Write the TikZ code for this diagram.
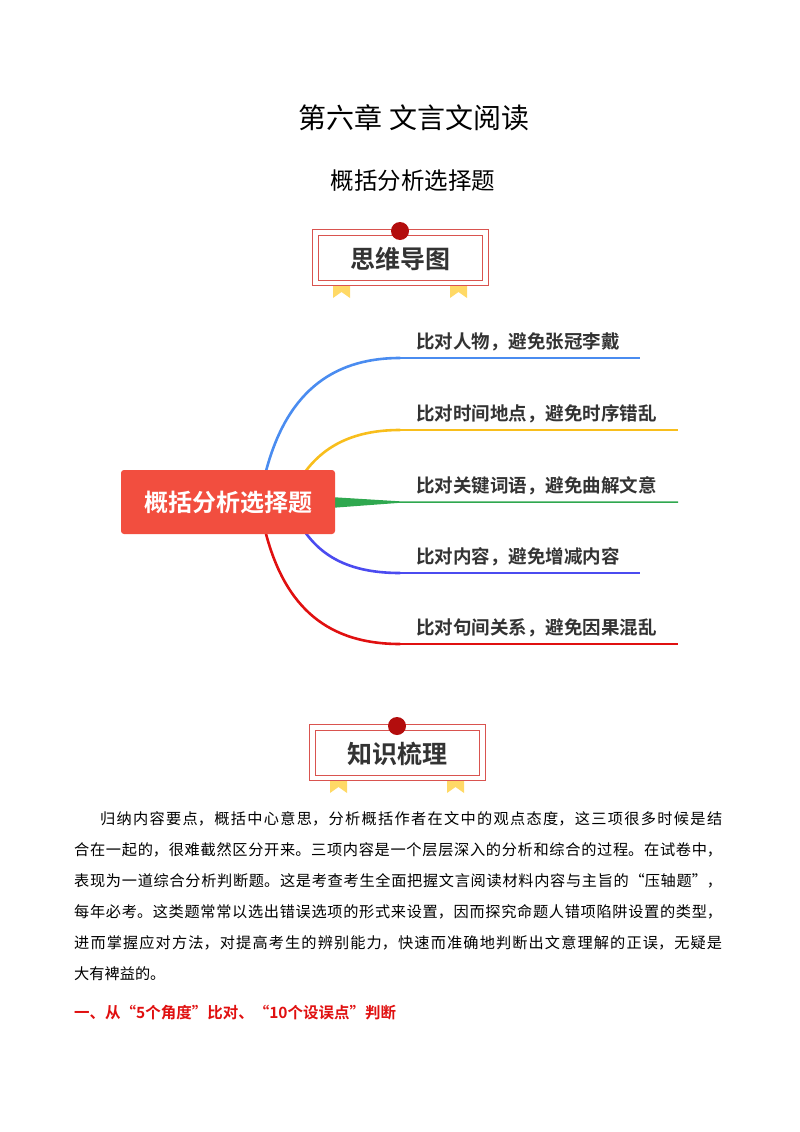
\documentclass[tikz,border=0pt]{standalone}
\usepackage{fontspec}
\setmainfont{Noto Sans CJK SC}
\newfontfamily\cjkb{Noto Sans CJK SC Bold}
\XeTeXlinebreaklocale "zh"
\XeTeXlinebreakskip=0pt plus 2pt
\definecolor{cblue}{HTML}{4A8CF0}
\definecolor{cyel}{HTML}{F8BE1C}
\definecolor{cgreen}{HTML}{2FA84F}
\definecolor{cpurp}{HTML}{4B4BF0}
\definecolor{cred}{HTML}{E01010}
\definecolor{boxred}{HTML}{F24E3F}
\definecolor{ban}{HTML}{D9534F}
\definecolor{ribbon}{HTML}{FFD966}
\tikzset{
 lbl/.style={anchor=south west,inner sep=0pt,font=\cjkb\fontsize{18.5}{20}\selectfont,text=black!80},
 br/.style={line width=2.6pt,line cap=round},
}
\begin{document}
\begin{tikzpicture}[x=1pt,y=-1pt]
\useasboundingbox (0,0) rectangle (800,1132);
\node (t1) at (414,118) {\fontsize{28}{32}\selectfont 第六章\hspace{8pt}文言文阅读};
\node (t2) at (413,181) {\fontsize{23.5}{26}\selectfont 概括分析选择题};
% banners
\foreach \bx/\by/\tt/\nm in {312/229/思维导图/b1,309/724/知识梳理/b2}{
 \fill[ribbon] (\bx+21,\by+50) -- ++(17,0) -- ++(0,19) -- ++(-8.5,-6) -- ++(-8.5,6) -- cycle;
 \fill[ribbon] (\bx+138,\by+50) -- ++(17,0) -- ++(0,19) -- ++(-8.5,-6) -- ++(-8.5,6) -- cycle;
 \draw[ban,line width=1pt,fill=white] (\bx,\by) rectangle ++(176,56);
 \draw[ban,line width=0.9pt] (\bx+6,\by+6) rectangle ++(164,45);
 \fill[cred!80!black] (\bx+88,\by+2) circle (9);
 \node (\nm) at (\bx+88,\by+30) {\cjkb\fontsize{25}{28}\selectfont\color{black!80}\tt};
}
% mind map branches
\coordinate (e1) at (640,358);
\coordinate (e2) at (678,430);
\coordinate (e3) at (678,502);
\coordinate (e4) at (640,573);
\coordinate (e5) at (678,644);
\draw[br,cblue] (265,475) .. controls (285,395) and (330,358) .. (400,358);
\draw[cblue,line width=1.2pt] (400,358) -- (e1);
\draw[br,cyel] (305,472) .. controls (325,445) and (355,430) .. (400,430);
\draw[cyel,line width=1.2pt] (400,430) -- (e2);
\fill[cgreen] (330,497) -- (400,501.3) -- (678,501.3) -- (678,502.8) -- (400,502.8) -- (330,508) -- cycle;
\draw[br,cpurp] (305,532) .. controls (325,560) and (355,573) .. (400,573);
\draw[cpurp,line width=1.2pt] (400,573) -- (e4);
\draw[br,cred] (265,530) .. controls (285,610) and (330,644) .. (400,644);
\draw[cred,line width=1.2pt] (400,644) -- (e5);
\node[fill=boxred,rounded corners=3pt,minimum width=214,minimum height=64,text=white] (c) at (228,502) {\cjkb\fontsize{24}{26}\selectfont 概括分析选择题};
\node[lbl] (l1) at (416,351) {比对人物，避免张冠李戴};
\node[lbl] (l2) at (416,423) {比对时间地点，避免时序错乱};
\node[lbl] (l3) at (416,495) {比对关键词语，避免曲解文意};
\node[lbl] (l4) at (416,566) {比对内容，避免增减内容};
\node[lbl] (l5) at (416,637) {比对句间关系，避免因果混乱};
% paragraph
\node[anchor=north west,inner sep=0pt,text width=648,align=justify,font=\fontsize{15.2}{31}\selectfont] (p) at (74,811) {\parindent=26pt\indent 归纳内容要点，概括中心意思，分析概括作者在文中的观点态度，这三项很多时候是结\linebreak 合在一起的，很难截然区分开来。三项内容是一个层层深入的分析和综合的过程。在试卷中，\linebreak 表现为一道综合分析判断题。这是考查考生全面把握文言阅读材料内容与主旨的“压轴题”，\linebreak 每年必考。这类题常常以选出错误选项的形式来设置，因而探究命题人错项陷阱设置的类型，\linebreak 进而掌握应对方法，对提高考生的辨别能力，快速而准确地判断出文意理解的正误，无疑是\linebreak 大有裨益的。};
\node[anchor=west,inner sep=0pt,text=cred,font=\cjkb\fontsize{15.5}{17}\selectfont] (h) at (74,1013) {一、从“5个角度”比对、“10个设误点”判断};
\end{tikzpicture}
\end{document}
